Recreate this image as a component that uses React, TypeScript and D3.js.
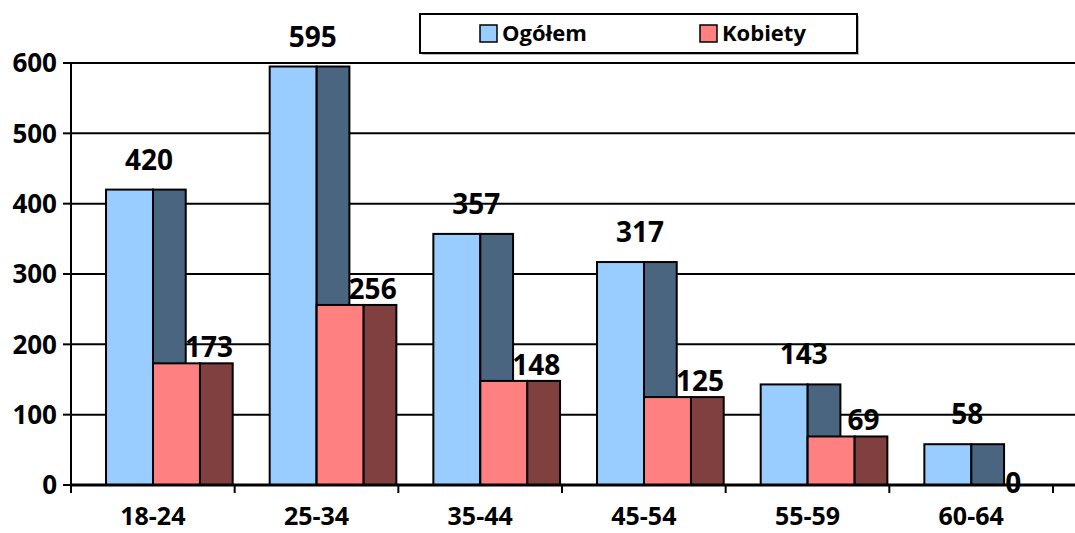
import React from "react";
import * as d3 from "d3";

const categories = ["18-24", "25-34", "35-44", "45-54", "55-59", "60-64"];
const ogolem = [420, 595, 357, 317, 143, 58];
const kobiety = [173, 256, 148, 125, 69, 0];
const yTicks = [0, 100, 200, 300, 400, 500, 600];
const seriesNames = ["Ogółem", "Kobiety"];

const W = 1075;
const H = 533;
const FONT = "'Open Sans', 'Noto Sans', sans-serif";

export default function App() {
  const x0 = 71;
  const x1 = 1053;
  const y = d3.scaleLinear().domain([0, 600]).range([485, 63]);
  const x = d3.scaleBand<string>().domain(categories).range([x0, x1]).padding(0);
  const bw = x.bandwidth();
  const lead = bw * 0.214;
  const front = bw * 0.287;
  const side = bw * 0.2;

  const colors = [
    { front: "#99CCFF", side: "#4A6580" },
    { front: "#FF8080", side: "#804040" },
  ];
  const stroke = "#000";

  const bars: React.ReactNode[] = [];
  const labels: React.ReactNode[] = [];
  categories.forEach((c, i) => {
    const cx = x(c) as number;
    [ogolem, kobiety].forEach((vals, s) => {
      const v = vals[i];
      const left = cx + lead + s * front;
      const top = y(v);
      const h = y(0) - top;
      if (v > 0) {
        bars.push(
          <g key={`b${i}-${s}`}>
            <rect x={left} y={top} width={front} height={h} fill={colors[s].front} stroke={stroke} strokeWidth={2} />
            <rect x={left + front} y={top} width={side} height={h} fill={colors[s].side} stroke={stroke} strokeWidth={2} />
          </g>
        );
      }
      const lx = s === 0 ? left + front - 4 : v === 0 ? left + front - 5 : left + front + 9;
      const ly = s === 0 ? top - 20 : v === 0 ? top + 8 : top - 6;
      labels.push(
        <text key={`l${i}-${s}`} x={lx} y={ly} textAnchor="middle" fontFamily={FONT} fontWeight={700} fontSize={28} fill="#000">
          {v}
        </text>
      );
    });
  });

  return (
    <svg width={W} height={H} style={{ position: "absolute", left: 0, top: 0, background: "#fff" }}>
      {yTicks.filter((t) => t > 0).map((t) => (
        <line key={`g${t}`} x1={x0} x2={W} y1={y(t)} y2={y(t)} stroke="#000" strokeWidth={2} />
      ))}
      {yTicks.map((t) => (
        <g key={`yt${t}`}>
          <line x1={63} x2={x0} y1={y(t)} y2={y(t)} stroke="#000" strokeWidth={2} />
          <text x={57} y={y(t)} dy="0.36em" textAnchor="end" fontFamily={FONT} fontWeight={700} fontSize={26} fill="#000">
            {t}
          </text>
        </g>
      ))}
      {bars}
      <line x1={x0} x2={x0} y1={y(600)} y2={y(0) + 8} stroke="#000" strokeWidth={2} />
      <line x1={x0} x2={W} y1={y(0)} y2={y(0)} stroke="#000" strokeWidth={3} />
      {categories.map((c) => (
        <line key={`xt${c}`} x1={(x(c) as number) + bw} x2={(x(c) as number) + bw} y1={y(0)} y2={y(0) + 8} stroke="#000" strokeWidth={2} />
      ))}
      {categories.map((c) => (
        <text key={`xl${c}`} x={(x(c) as number) + bw / 2} y={525} textAnchor="middle" fontFamily={FONT} fontWeight={700} fontSize={25} fill="#000">
          {c}
        </text>
      ))}
      {labels}
      <rect x={422} y={16} width={437} height={39} fill="#bbb" />
      <rect x={420} y={14} width={437} height={39} fill="#fff" stroke="#000" strokeWidth={2} />
      {seriesNames.map((n, i) => {
        const sx = i === 0 ? 480 : 700;
        return (
          <g key={`lg${n}`}>
            <rect x={sx} y={25} width={17} height={17} fill={colors[i].front} stroke="#000" strokeWidth={1.5} />
            <text x={sx + 22} y={41} fontFamily={FONT} fontWeight={700} fontSize={22} fill="#000">
              {n}
            </text>
          </g>
        );
      })}
    </svg>
  );
}
